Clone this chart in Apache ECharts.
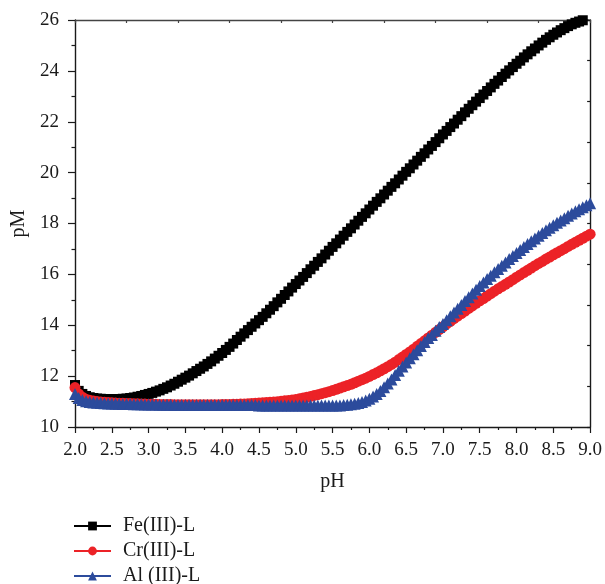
<!DOCTYPE html>
<html>
<head>
<meta charset="utf-8">
<title>pM vs pH</title>
<script src="https://cdn.jsdelivr.net/npm/echarts@6/dist/echarts.min.js"></script>
<style>
  html, body { margin: 0; padding: 0; background: #fff; }
  #chart { width: 605px; height: 584px; }
</style>
</head>
<body>
<div id="chart"></div>
<script>
// pH grid: 2.00 to 9.00 in steps of 0.05
var phStart = 2.0;
var phStep = 0.05;

var feValues = [
  11.65, 11.42, 11.30, 11.22, 11.17, 11.14, 11.12, 11.11, 11.10, 11.10,
  11.10, 11.10, 11.10, 11.11, 11.12, 11.14, 11.16, 11.19, 11.22, 11.26,
  11.30, 11.34, 11.39, 11.44, 11.50, 11.56, 11.63, 11.70, 11.78, 11.86,
  11.94, 12.02, 12.11, 12.20, 12.29, 12.38, 12.48, 12.58, 12.69, 12.80,
  12.91, 13.03, 13.15, 13.28, 13.42, 13.55, 13.68, 13.81, 13.94, 14.07,
  14.20, 14.33, 14.47, 14.61, 14.75, 14.90, 15.04, 15.19, 15.33, 15.48,
  15.62, 15.76, 15.90, 16.05, 16.20, 16.34, 16.49, 16.63, 16.78, 16.93,
  17.08, 17.22, 17.37, 17.52, 17.67, 17.81, 17.96, 18.11, 18.26, 18.40,
  18.55, 18.70, 18.85, 18.99, 19.14, 19.29, 19.44, 19.58, 19.73, 19.88,
  20.03, 20.17, 20.32, 20.47, 20.62, 20.76, 20.91, 21.05, 21.20, 21.35,
  21.50, 21.64, 21.79, 21.93, 22.08, 22.22, 22.37, 22.51, 22.65, 22.79,
  22.93, 23.07, 23.21, 23.35, 23.49, 23.62, 23.76, 23.89, 24.02, 24.15,
  24.28, 24.40, 24.53, 24.65, 24.77, 24.88, 25.00, 25.11, 25.22, 25.32,
  25.42, 25.51, 25.60, 25.68, 25.76, 25.83, 25.89, 25.94, 25.99, 26.03,
  26.06
];

var crValues = [
  11.55, 11.30, 11.17, 11.09, 11.05, 11.02, 11.00, 10.98, 10.97, 10.96,
  10.95, 10.94, 10.93, 10.93, 10.92, 10.92, 10.91, 10.91, 10.90, 10.90,
  10.89, 10.89, 10.89, 10.88, 10.88, 10.88, 10.88, 10.87, 10.87, 10.87,
  10.87, 10.87, 10.87, 10.87, 10.87, 10.87, 10.87, 10.87, 10.87, 10.87,
  10.88, 10.88, 10.88, 10.89, 10.89, 10.90, 10.90, 10.91, 10.92, 10.93,
  10.94, 10.95, 10.96, 10.97, 10.98, 10.99, 11.01, 11.03, 11.04, 11.06,
  11.08, 11.11, 11.14, 11.17, 11.20, 11.24, 11.27, 11.31, 11.35, 11.39,
  11.43, 11.48, 11.53, 11.58, 11.63, 11.68, 11.74, 11.80, 11.86, 11.92,
  11.99, 12.06, 12.13, 12.21, 12.29, 12.37, 12.46, 12.55, 12.65, 12.75,
  12.85, 12.95, 13.06, 13.17, 13.28, 13.39, 13.50, 13.61, 13.72, 13.83,
  13.94, 14.05, 14.15, 14.26, 14.36, 14.46, 14.56, 14.66, 14.76, 14.86,
  14.96, 15.05, 15.15, 15.24, 15.34, 15.43, 15.52, 15.61, 15.70, 15.79,
  15.89, 15.98, 16.07, 16.16, 16.25, 16.34, 16.43, 16.51, 16.60, 16.68,
  16.77, 16.85, 16.93, 17.01, 17.10, 17.18, 17.26, 17.34, 17.42, 17.50,
  17.58
];

var alValues = [
  11.30, 11.14, 11.06, 11.01, 10.98, 10.96, 10.95, 10.94, 10.93, 10.92,
  10.92, 10.91, 10.91, 10.90, 10.90, 10.90, 10.89, 10.89, 10.89, 10.88,
  10.88, 10.88, 10.88, 10.87, 10.87, 10.87, 10.87, 10.86, 10.86, 10.86,
  10.86, 10.86, 10.86, 10.86, 10.86, 10.86, 10.86, 10.86, 10.86, 10.86,
  10.86, 10.86, 10.86, 10.86, 10.86, 10.86, 10.86, 10.86, 10.86, 10.86,
  10.85, 10.85, 10.85, 10.85, 10.85, 10.85, 10.85, 10.85, 10.85, 10.85,
  10.85, 10.85, 10.85, 10.85, 10.85, 10.85, 10.85, 10.85, 10.85, 10.85,
  10.85, 10.85, 10.85, 10.86, 10.87, 10.89, 10.91, 10.94, 10.98, 11.04,
  11.11, 11.20, 11.30, 11.42, 11.56, 11.71, 11.87, 12.04, 12.21, 12.38,
  12.54, 12.70, 12.86, 13.02, 13.18, 13.34, 13.50, 13.62, 13.78, 13.93,
  14.05, 14.20, 14.35, 14.50, 14.65, 14.80, 14.95, 15.10, 15.25, 15.40,
  15.54, 15.68, 15.82, 15.95, 16.08, 16.21, 16.34, 16.47, 16.60, 16.72,
  16.84, 16.96, 17.08, 17.19, 17.30, 17.41, 17.52, 17.63, 17.73, 17.83,
  17.93, 18.03, 18.12, 18.21, 18.30, 18.39, 18.48, 18.56, 18.64, 18.72,
  18.80
];

var seriesNames = ['Fe(III)-L', 'Cr(III)-L', 'Al (III)-L'];
var seriesColors = ['#000000', '#ec2227', '#2c4b9c'];

function pairs(values) {
  return values.map(function (v, i) {
    return [+(phStart + i * phStep).toFixed(2), v];
  });
}

var FONT = '"Liberation Serif", "DejaVu Serif", serif';
var axisColor = '#1a1a1a';
var textColor = '#1a1a1a';

var chart = echarts.init(document.getElementById('chart'), null, { renderer: 'canvas' });

chart.setOption({
  animation: false,
  backgroundColor: '#ffffff',
  textStyle: { fontFamily: FONT },
  grid: { left: 75, right: 14, top: 20, bottom: 157, containLabel: false },
  legend: {
    orient: 'vertical',
    left: 73,
    top: 516,
    height: 90,
    padding: 0,
    itemWidth: 37,
    itemHeight: 11,
    itemGap: 5,
    data: seriesNames,
    textStyle: {
      fontFamily: FONT,
      fontSize: 20,
      color: textColor,
      lineHeight: 20,
      padding: [0, 0, 0, 7]
    }
  },
  xAxis: [
    {
      type: 'value',
      min: 2,
      max: 9,
      interval: 0.5,
      position: 'bottom',
      name: 'pH',
      nameLocation: 'middle',
      nameGap: 45,
      nameTextStyle: { fontFamily: FONT, fontSize: 20, color: textColor },
      axisLine: { show: true, onZero: false, lineStyle: { color: axisColor, width: 1.4 } },
      axisTick: { show: true, inside: false, length: 6, lineStyle: { color: axisColor, width: 1.2 } },
      minorTick: { show: true, splitNumber: 2, length: 3, lineStyle: { color: axisColor, width: 1.2 } },
      axisLabel: {
        fontFamily: FONT, fontSize: 19, color: textColor, margin: 14,
        formatter: function (v) { return v.toFixed(1); }
      },
      splitLine: { show: false }
    },
    {
      type: 'value',
      min: 0,
      max: 10,
      interval: 1,
      position: 'top',
      axisLine: { show: true, onZero: false, lineStyle: { color: '#444', width: 1.4 } },
      axisTick: { show: true, inside: true, length: 3, lineStyle: { color: '#444', width: 1.2 } },
      axisLabel: { show: false },
      splitLine: { show: false }
    }
  ],
  yAxis: [
    {
      type: 'value',
      min: 10,
      max: 26,
      interval: 2,
      position: 'left',
      name: 'pM',
      nameLocation: 'middle',
      nameGap: 44,
      nameRotate: 90,
      nameTextStyle: { fontFamily: FONT, fontSize: 20, color: textColor },
      axisLine: { show: true, onZero: false, lineStyle: { color: axisColor, width: 1.4 } },
      axisTick: { show: true, inside: false, length: 7, lineStyle: { color: axisColor, width: 1.2 } },
      minorTick: { show: true, splitNumber: 2, length: 3.5, lineStyle: { color: axisColor, width: 1.2 } },
      axisLabel: { fontFamily: FONT, fontSize: 19, color: textColor, margin: 16 },
      splitLine: { show: false }
    },
    {
      type: 'value',
      min: 0,
      max: 10,
      interval: 1,
      position: 'right',
      axisLine: { show: true, onZero: false, lineStyle: { color: axisColor, width: 1.4 } },
      axisTick: { show: true, inside: true, length: 3, lineStyle: { color: axisColor, width: 1.2 } },
      axisLabel: { show: false },
      splitLine: { show: false }
    }
  ],
  series: [
    {
      name: seriesNames[0],
      type: 'line',
      xAxisIndex: 0,
      yAxisIndex: 0,
      data: pairs(feValues),
      symbol: 'rect',
      symbolSize: 10,
      showSymbol: true,
      showAllSymbol: true,
      clip: true,
      itemStyle: { color: seriesColors[0] },
      lineStyle: { color: seriesColors[0], width: 1.5 }
    },
    {
      name: seriesNames[1],
      type: 'line',
      xAxisIndex: 0,
      yAxisIndex: 0,
      data: pairs(crValues),
      symbol: 'circle',
      symbolSize: 11,
      showSymbol: true,
      showAllSymbol: true,
      clip: true,
      itemStyle: { color: seriesColors[1] },
      lineStyle: { color: seriesColors[1], width: 1.5 }
    },
    {
      name: seriesNames[2],
      type: 'line',
      xAxisIndex: 0,
      yAxisIndex: 0,
      data: pairs(alValues),
      symbol: 'triangle',
      symbolSize: 12,
      showSymbol: true,
      showAllSymbol: true,
      clip: true,
      itemStyle: { color: seriesColors[2] },
      lineStyle: { color: seriesColors[2], width: 1.5 }
    }
  ]
});
</script>
</body>
</html>
